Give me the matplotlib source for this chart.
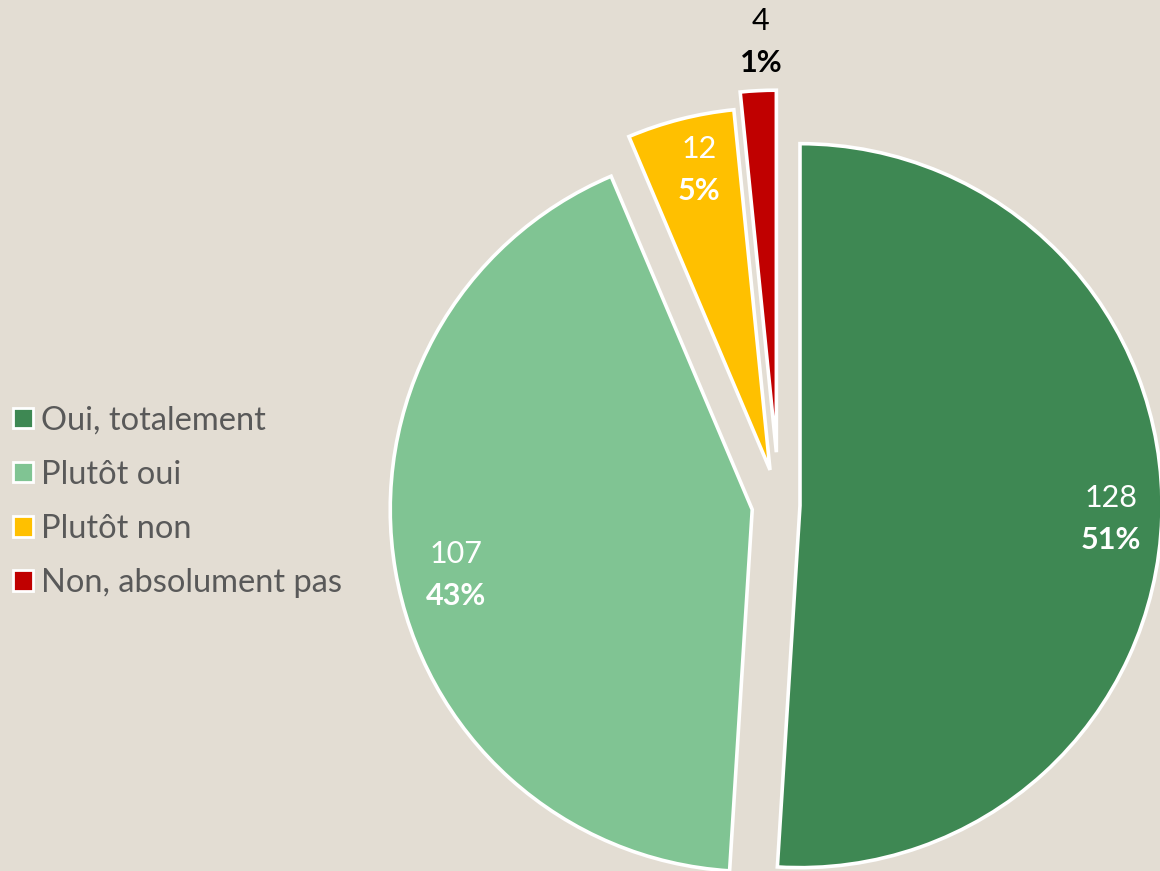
import numpy as np
import matplotlib.pyplot as plt
from matplotlib.patches import Patch

# data
categories = ['Oui, totalement', 'Plutôt oui', 'Plutôt non', 'Non, absolument pas']
counts = [128, 107, 12, 4]
pct_labels = ['51%', '43%', '5%', '1%']
colors = ['#3E8853', '#80C493', '#FFC000', '#C00000']
text_colors = ['white', 'white', 'white', 'black']

explode = [0.058, 0.075, 0.10, 0.146]   # fraction of radius
label_dist = [0.86, 0.84, 0.85, 1.13]
label_nudge = [-0.8, 3, -1, -0.7]   # degrees
bg = '#E3DDD3'

plt.rcParams['font.family'] = ['Lato', 'DejaVu Sans']

fig = plt.figure(figsize=(11.6, 8.71), dpi=100, facecolor=bg)
ax = fig.add_axes([0, 0, 1, 1])
ax.set_facecolor(bg)

R = 362
cx, cy = 779, 871 - 505
wedges, _ = ax.pie(counts, colors=colors, startangle=90, counterclock=False,
                   explode=[e * R for e in explode], radius=R, center=(cx, cy),
                   frame=True, wedgeprops=dict(edgecolor='white', linewidth=2.6))

for w, n, p, d, nud, tc, ex in zip(wedges, counts, pct_labels, label_dist,
                                    label_nudge, text_colors, explode):
    mid = np.deg2rad((w.theta1 + w.theta2) / 2)
    ox, oy = cx + ex * R * np.cos(mid), cy + ex * R * np.sin(mid)
    a = mid + np.deg2rad(nud)
    x, y = ox + d * R * np.cos(a), oy + d * R * np.sin(a)
    ax.text(x, y + 8, str(n), ha='center', va='bottom', fontsize=22,
            color=tc, fontweight='normal')
    ax.text(x, y - 6, p, ha='center', va='top', fontsize=22,
            color=tc, fontweight='bold')

ax.set_xlim(0, 1160)
ax.set_ylim(0, 871)
ax.set_aspect('equal')
ax.axis('off')

handles = [Patch(facecolor=c, edgecolor='white', linewidth=2) for c in colors]
leg = ax.legend(handles, categories, loc='center left', bbox_to_anchor=(0.0, 0.424),
                frameon=False, fontsize=23.5, handlelength=0.6, handleheight=0.6,
                handletextpad=0.25, labelspacing=0.74, labelcolor='#595959',
                borderaxespad=0)

fig.savefig('out.png', dpi=100, facecolor=bg)
